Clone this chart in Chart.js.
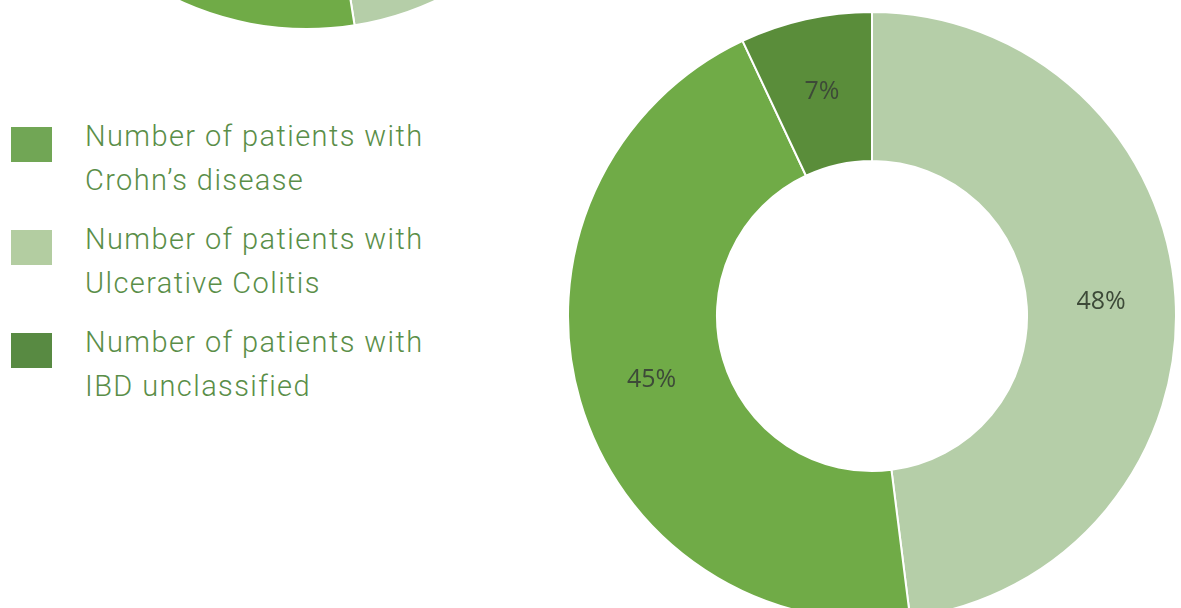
<!DOCTYPE html>
<html>
<head>
<meta charset="utf-8">
<script src="https://cdn.jsdelivr.net/npm/chart.js@4.4.0/dist/chart.umd.min.js"></script>
<style>
  html, body { margin: 0; padding: 0; background: #fff; }
  body { width: 1181px; height: 608px; overflow: hidden; position: relative; }
  canvas { position: absolute; }
  #mainChart { left: 567px; top: 11px; }
  #topChart { left: 2px; top: -580px; }
  .legend-box { position: absolute; left: 11px; width: 41px; height: 35px; }
  .legend-text {
    position: absolute; left: 85px; white-space: nowrap;
    font-family: Roboto, "Liberation Sans", sans-serif; font-weight: 300;
    font-size: 29px; line-height: 44px; letter-spacing: 1.4px; color: #5a8e48;
  }
</style>
</head>
<body>
<canvas id="topChart" width="610" height="610"></canvas>
<canvas id="mainChart" width="610" height="610"></canvas>
<div id="legend"></div>
<script>
// slice order as drawn clockwise from 12 o'clock
const categories = ['Ulcerative Colitis', "Crohn\u2019s disease", 'IBD unclassified'];
const shares = [48, 45, 7];
const sliceColors = ['#b5cea8', '#70ab47', '#5a8d3a'];

// second chart, only its bottom edge shows at the top of the picture
const topShares = [47.5, 45.5, 7];

// legend order
const legendLines = [
    ['Number of patients with', "Crohn\u2019s disease"],
    ['Number of patients with', 'Ulcerative Colitis'],
    ['Number of patients with', 'IBD unclassified']
];
const legendColors = ['#71a655', '#b3cda1', '#588a42'];

// percentage labels in the middle of each ring segment
const sliceLabels = {
    id: 'sliceLabels',
    afterDatasetsDraw(chart, args, opts) {
        if (!opts.show) return;
        const ctx = chart.ctx;
        const data = chart.data.datasets[0].data;
        const total = data.reduce((a, b) => a + b, 0);
        ctx.save();
        ctx.font = '25px "Open Sans", sans-serif';
        ctx.fillStyle = '#3d4a38';
        ctx.textAlign = 'center';
        ctx.textBaseline = 'middle';
        chart.getDatasetMeta(0).data.forEach((arc, i) => {
            const p = arc.tooltipPosition();
            ctx.fillText(Math.round(data[i] / total * 100) + '%', p.x, p.y);
        });
        ctx.restore();
    }
};

function makeDonut(id, values, showLabels) {
    return new Chart(document.getElementById(id), {
        type: 'doughnut',
        data: {
            labels: categories,
            datasets: [{
                data: values,
                backgroundColor: sliceColors,
                borderColor: '#ffffff',
                borderWidth: 2
            }]
        },
        options: {
            responsive: false,
            animation: false,
            cutout: '51%',
            layout: { padding: 0 },
            plugins: {
                legend: { display: false },
                tooltip: { enabled: false },
                sliceLabels: { show: showLabels }
            }
        },
        plugins: [sliceLabels]
    });
}

makeDonut('topChart', topShares, false);
makeDonut('mainChart', shares, true);

// legend at left
const legend = document.getElementById('legend');
legendLines.forEach((lines, i) => {
    const box = document.createElement('div');
    box.className = 'legend-box';
    box.style.top = (127 + i * 103) + 'px';
    box.style.background = legendColors[i];
    legend.appendChild(box);
    const txt = document.createElement('div');
    txt.className = 'legend-text';
    txt.style.top = (114 + i * 103) + 'px';
    txt.innerHTML = lines.join('<br>');
    legend.appendChild(txt);
});
</script>
</body>
</html>
